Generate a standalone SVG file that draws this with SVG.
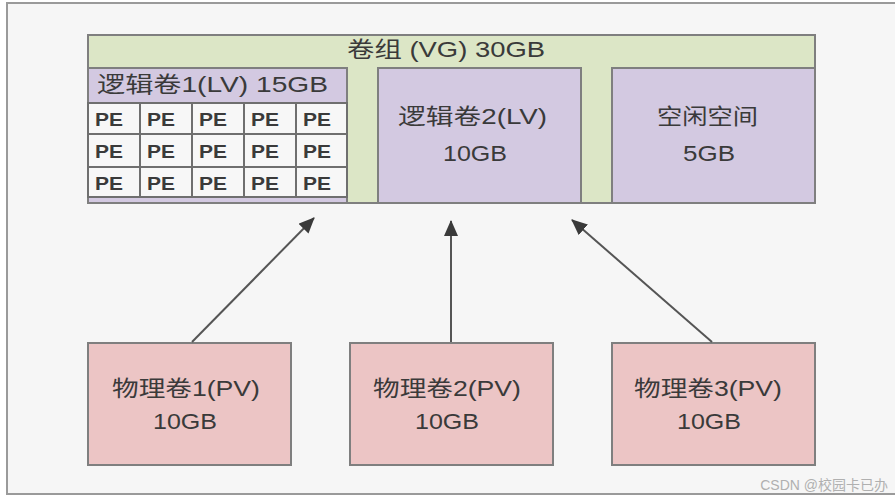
<svg xmlns="http://www.w3.org/2000/svg" width="895" height="498" viewBox="0 0 895 498">
<defs>
<style>
.t{font-family:"Liberation Sans","Noto Sans CJK SC",sans-serif;fill:#3a3a3a;font-size:22px;}
.box{stroke:#7f7f7f;stroke-width:2;}
.vg{fill:#dce6c6;}
.lv{fill:#d3c9e1;}
.pv{fill:#ecc5c5;}
.pe{fill:#f7f7f7;stroke:#6f6f6f;stroke-width:2;}
.pet{font-family:"Liberation Sans",sans-serif;font-size:18px;fill:#3a3a3a;font-weight:bold;}
.c{stroke:#555;stroke-width:2;fill:none;}
</style>
<marker id="ah" viewBox="0 0 16 14" refX="15" refY="7" markerWidth="16" markerHeight="14" markerUnits="userSpaceOnUse" orient="auto">
<path d="M0,0 L16,7 L0,14 z" fill="#3a3a3a"/>
</marker>
</defs>
<rect x="0" y="0" width="895" height="498" fill="#ffffff"/>
<rect x="7" y="3" width="900" height="491" fill="#f6f6f6" stroke="#9a9a9a" stroke-width="2"/>

<g id="vg">
<rect class="box vg" x="88" y="35" width="727" height="168"/>
<text class="t" x="347" y="57" textLength="198" lengthAdjust="spacingAndGlyphs">卷组 (VG)  30GB</text>
</g>

<g id="lv1">
<rect class="box lv" x="88" y="68" width="259" height="135"/>
<text class="t" x="97" y="92" textLength="231" lengthAdjust="spacingAndGlyphs">逻辑卷1(LV)  15GB</text>
<g id="pe-grid">
<rect class="pe" x="88" y="103" width="52" height="31"/>
<rect class="pe" x="140" y="103" width="52" height="31"/>
<rect class="pe" x="192" y="103" width="52" height="31"/>
<rect class="pe" x="244" y="103" width="52" height="31"/>
<rect class="pe" x="296" y="103" width="51" height="31"/>
<rect class="pe" x="88" y="134" width="52" height="33"/>
<rect class="pe" x="140" y="134" width="52" height="33"/>
<rect class="pe" x="192" y="134" width="52" height="33"/>
<rect class="pe" x="244" y="134" width="52" height="33"/>
<rect class="pe" x="296" y="134" width="51" height="33"/>
<rect class="pe" x="88" y="167" width="52" height="30"/>
<rect class="pe" x="140" y="167" width="52" height="30"/>
<rect class="pe" x="192" y="167" width="52" height="30"/>
<rect class="pe" x="244" y="167" width="52" height="30"/>
<rect class="pe" x="296" y="167" width="51" height="30"/>
<text class="pet" x="95" y="126" textLength="28" lengthAdjust="spacingAndGlyphs">PE</text>
<text class="pet" x="147" y="126" textLength="28" lengthAdjust="spacingAndGlyphs">PE</text>
<text class="pet" x="199" y="126" textLength="28" lengthAdjust="spacingAndGlyphs">PE</text>
<text class="pet" x="251" y="126" textLength="28" lengthAdjust="spacingAndGlyphs">PE</text>
<text class="pet" x="303" y="126" textLength="28" lengthAdjust="spacingAndGlyphs">PE</text>
<text class="pet" x="95" y="158" textLength="28" lengthAdjust="spacingAndGlyphs">PE</text>
<text class="pet" x="147" y="158" textLength="28" lengthAdjust="spacingAndGlyphs">PE</text>
<text class="pet" x="199" y="158" textLength="28" lengthAdjust="spacingAndGlyphs">PE</text>
<text class="pet" x="251" y="158" textLength="28" lengthAdjust="spacingAndGlyphs">PE</text>
<text class="pet" x="303" y="158" textLength="28" lengthAdjust="spacingAndGlyphs">PE</text>
<text class="pet" x="95" y="190" textLength="28" lengthAdjust="spacingAndGlyphs">PE</text>
<text class="pet" x="147" y="190" textLength="28" lengthAdjust="spacingAndGlyphs">PE</text>
<text class="pet" x="199" y="190" textLength="28" lengthAdjust="spacingAndGlyphs">PE</text>
<text class="pet" x="251" y="190" textLength="28" lengthAdjust="spacingAndGlyphs">PE</text>
<text class="pet" x="303" y="190" textLength="28" lengthAdjust="spacingAndGlyphs">PE</text>
</g>
</g>

<g id="lv2">
<rect class="box lv" x="378" y="68" width="203" height="135"/>
<text class="t" x="398" y="124" textLength="149" lengthAdjust="spacingAndGlyphs">逻辑卷2(LV)</text>
<text class="t" x="443" y="161" textLength="64" lengthAdjust="spacingAndGlyphs">10GB</text>
</g>

<g id="free">
<rect class="box lv" x="612" y="68" width="203" height="135"/>
<text class="t" x="657" y="124" textLength="101" lengthAdjust="spacingAndGlyphs">空闲空间</text>
<text class="t" x="683" y="161" textLength="52" lengthAdjust="spacingAndGlyphs">5GB</text>
</g>

<g id="pv1">
<rect class="box pv" x="88" y="343" width="203" height="122"/>
<text class="t" x="112" y="396" textLength="148" lengthAdjust="spacingAndGlyphs">物理卷1(PV)</text>
<text class="t" x="153" y="429" textLength="64" lengthAdjust="spacingAndGlyphs">10GB</text>
</g>

<g id="pv2">
<rect class="box pv" x="350" y="343" width="203" height="122"/>
<text class="t" x="373" y="396" textLength="148" lengthAdjust="spacingAndGlyphs">物理卷2(PV)</text>
<text class="t" x="415" y="429" textLength="64" lengthAdjust="spacingAndGlyphs">10GB</text>
</g>

<g id="pv3">
<rect class="box pv" x="612" y="343" width="203" height="122"/>
<text class="t" x="634" y="396" textLength="148" lengthAdjust="spacingAndGlyphs">物理卷3(PV)</text>
<text class="t" x="677" y="429" textLength="64" lengthAdjust="spacingAndGlyphs">10GB</text>
</g>

<g id="connectors">
<line class="c" x1="192" y1="342" x2="314" y2="218" marker-end="url(#ah)"/>
<line class="c" x1="451" y1="342" x2="451" y2="221" marker-end="url(#ah)"/>
<line class="c" x1="712" y1="342" x2="572" y2="220" marker-end="url(#ah)"/>
</g>

<text x="888" y="490" font-family="Liberation Sans,'Noto Sans CJK SC',sans-serif" font-size="14" fill="#b0b0b0" text-anchor="end">CSDN @校园卡已办</text>
</svg>
